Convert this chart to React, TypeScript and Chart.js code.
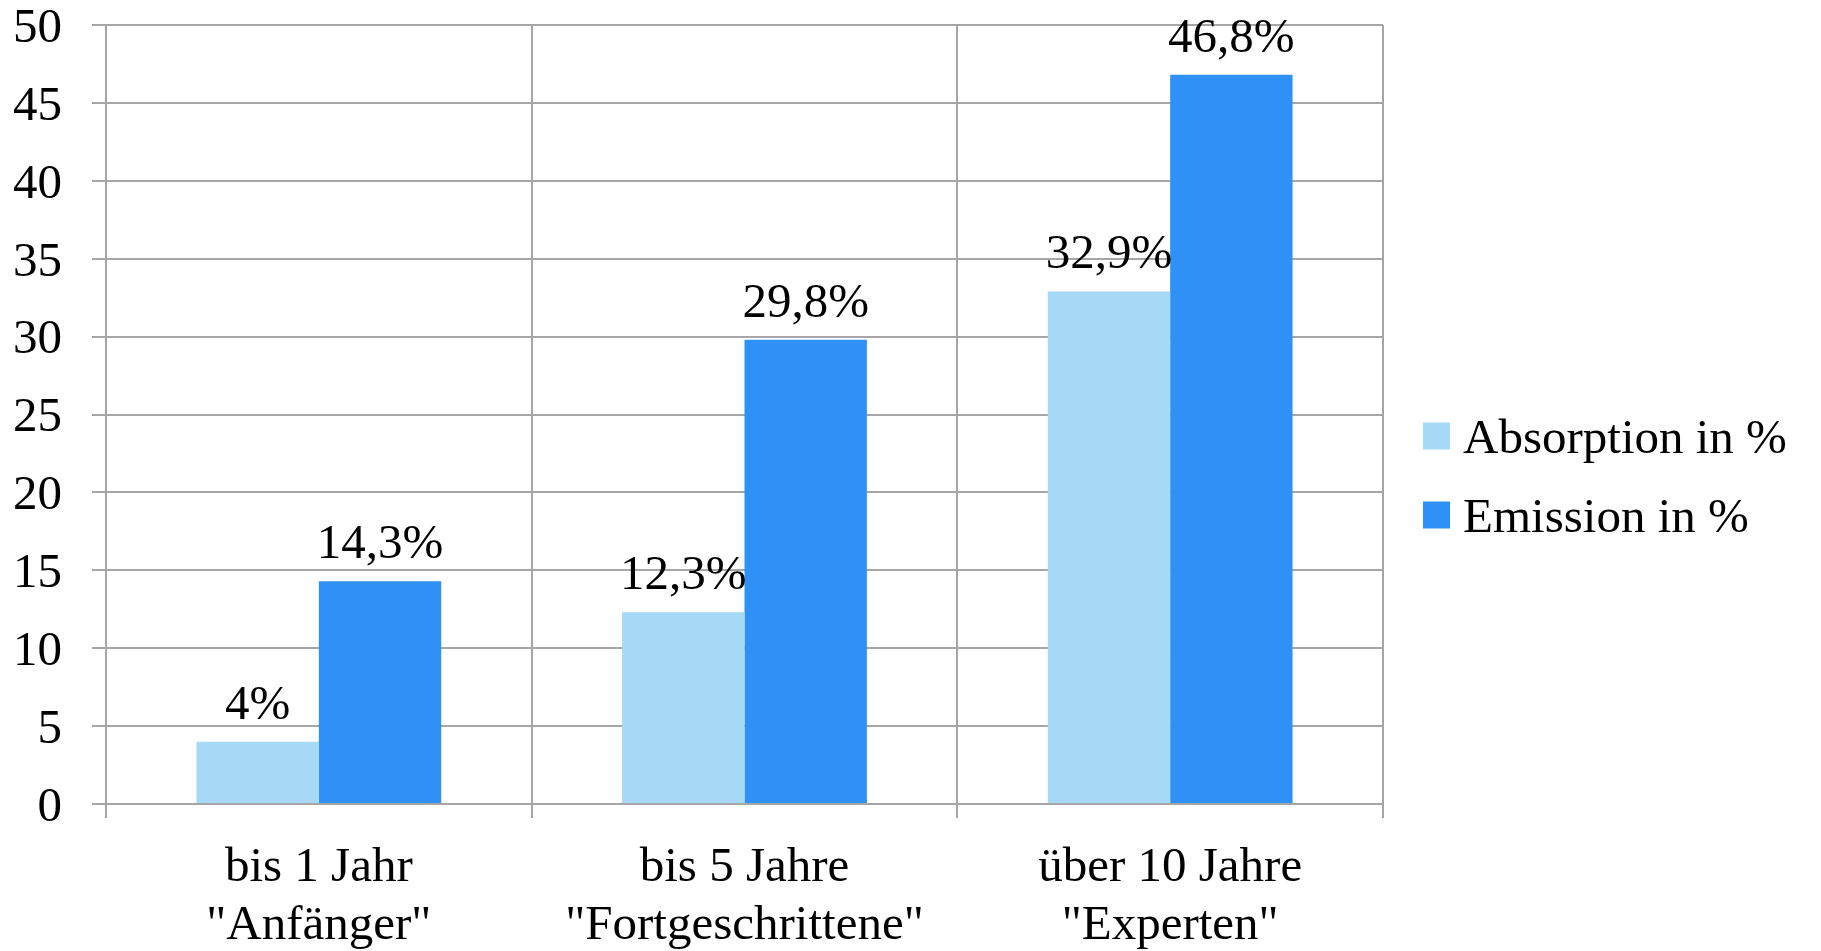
import React, { useEffect, useRef } from 'react';
import { Chart, registerables } from 'chart.js';

Chart.register(...registerables);

const categories: string[][] = [
  ['bis 1 Jahr', '"Anfänger"'],
  ['bis 5 Jahre', '"Fortgeschrittene"'],
  ['über 10 Jahre', '"Experten"'],
];
const absorption = [4, 12.3, 32.9];
const emission = [14.3, 29.8, 46.8];
const seriesNames = ['Absorption in %', 'Emission in %'];
const seriesColors = ['#A6D9F5', '#2F91F6'];
const yMin = 0;
const yMax = 50;
const yStep = 5;

const FONT = "'Liberation Serif', 'Times New Roman', serif";
const FS = 49;
const GRID = '#A6A6A6';

const fmt = (v: number) => String(v).replace('.', ',') + '%';

const valueLabels = {
  id: 'valueLabels',
  afterDatasetsDraw(chart: any) {
    const ctx = chart.ctx;
    ctx.save();
    ctx.font = `${FS}px ${FONT}`;
    ctx.fillStyle = '#000';
    ctx.textAlign = 'center';
    ctx.textBaseline = 'alphabetic';
    chart.data.datasets.forEach((ds: any, di: number) => {
      const meta = chart.getDatasetMeta(di);
      meta.data.forEach((el: any, i: number) => {
        ctx.fillText(fmt(ds.data[i]), el.x, el.y - 23);
      });
    });
    ctx.restore();
  },
};

const sideLegend = {
  id: 'sideLegend',
  afterDraw(chart: any) {
    const ctx = chart.ctx;
    const area = chart.chartArea;
    const x = area.right + 40;
    const cy = chart.height / 2;
    const gap = 79;
    const box = 27;
    ctx.save();
    ctx.font = `${FS}px ${FONT}`;
    ctx.textAlign = 'left';
    ctx.textBaseline = 'alphabetic';
    chart.data.datasets.forEach((ds: any, i: number) => {
      const yc = cy - gap / 2 + i * gap;
      ctx.fillStyle = ds.backgroundColor;
      ctx.fillRect(x, yc - box / 2, box, box);
      ctx.fillStyle = '#000';
      ctx.fillText(ds.label, x + box + 13, yc + 17);
    });
    ctx.restore();
  },
};

export default function App() {
  const ref = useRef<HTMLCanvasElement | null>(null);

  useEffect(() => {
    if (!ref.current) return;
    const chart = new Chart(ref.current, {
      type: 'bar',
      data: {
        labels: categories,
        datasets: [
          {
            label: seriesNames[0],
            data: absorption,
            backgroundColor: seriesColors[0],
            categoryPercentage: 0.575,
            barPercentage: 1.0,
          },
          {
            label: seriesNames[1],
            data: emission,
            backgroundColor: seriesColors[1],
            categoryPercentage: 0.575,
            barPercentage: 1.0,
          },
        ],
      },
      options: {
        responsive: false,
        animation: false,
        layout: { padding: { top: 25, right: 438, left: 0, bottom: 0 } },
        plugins: {
          legend: { display: false },
          tooltip: { enabled: false },
        },
        scales: {
          x: {
            offset: true,
            grid: {
              offset: true,
              color: GRID,
              lineWidth: 2,
              tickLength: 14,
              drawTicks: true,
            },
            border: { color: GRID, width: 2 },
            ticks: {
              color: '#000',
              font: { family: FONT, size: FS, lineHeight: 1.18 },
              padding: 21,
              maxRotation: 0,
              autoSkip: false,
            },
            afterFit: (s: any) => {
              s.height = 147;
              s.paddingLeft = 0;
              s.paddingRight = 0;
            },
          },
          y: {
            min: yMin,
            max: yMax,
            ticks: {
              stepSize: yStep,
              color: '#000',
              font: { family: FONT, size: FS, lineHeight: 1 },
              padding: 30,
              labelOffset: 4,
            },
            grid: { color: GRID, lineWidth: 2, tickLength: 14 },
            border: { color: GRID, width: 2 },
            afterFit: (s: any) => {
              s.width = 106;
              s.paddingTop = 0;
              s.paddingBottom = 0;
            },
          },
        },
      },
      plugins: [valueLabels, sideLegend],
    });
    return () => chart.destroy();
  }, []);

  return (
    <div style={{ position: 'fixed', left: 0, top: 0, width: 1821, height: 951, background: '#fff' }}>
      <canvas ref={ref} width={1821} height={951} style={{ display: 'block' }} />
    </div>
  );
}
